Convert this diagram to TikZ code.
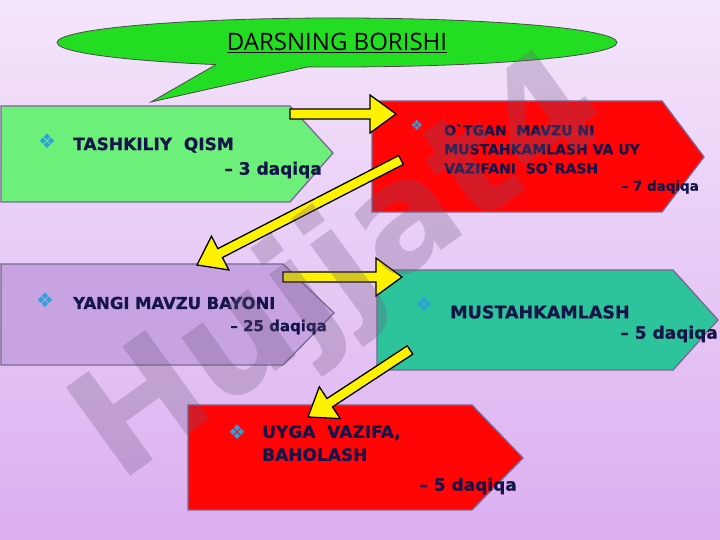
\documentclass[tikz,border=0pt]{standalone}
\usepackage{fontspec}
\newfontfamily\boxfont{DejaVu Sans}[BoldFeatures={FakeBold=0.8}]
\newfontfamily\markfont{DejaVu Sans}
\newfontfamily\headfont{Open Sans}
\usetikzlibrary{calc, shapes.geometric}

\definecolor{bgtop}{HTML}{F4E6FB}
\definecolor{bgbottom}{HTML}{DBAEF0}
\definecolor{boxline}{HTML}{7A6890}
\definecolor{inkblue}{HTML}{15154A}
\definecolor{bulletblue}{HTML}{2AA2DC}
\definecolor{bubblegreen}{HTML}{22DD22}
\definecolor{stepgreen}{HTML}{6CF07A}
\definecolor{stepred}{HTML}{FF0505}
\definecolor{steplilac}{HTML}{C7A3E2}
\definecolor{stepteal}{HTML}{2DC49B}
\definecolor{markgray}{HTML}{6E5580}

\tikzset{
  pics/yarrow/.style={code={
    \draw[fill=yellow, line width=1.3pt, line join=miter]
      (0,-5) -- (#1-26,-5) -- (#1-26,-19) -- (#1,0) -- (#1-26,19) -- (#1-26,5) -- (0,5) -- cycle;
  }}
}

\begin{document}
\begin{tikzpicture}[x=1pt, y=1pt,
    stepbox/.style={draw=boxline, line width=1.3pt, line join=miter},
    bullet/.style={text=bulletblue, inner sep=0, font=\boxfont\fontsize{#1}{#1}\selectfont},
    stepname/.style={text=inkblue, inner sep=0, align=left, font=\boxfont\bfseries\fontsize{#1}{#1}\selectfont},
    steptime/.style={text=inkblue, inner sep=0, anchor=east, font=\boxfont\bfseries\fontsize{#1}{#1}\selectfont}
  ]
    \useasboundingbox (0,0) rectangle (720,540);
    \shade[top color=bgtop, bottom color=bgbottom] (0,0) rectangle (720,540);

    % title bubble
    \node[ellipse, draw=black!70, fill=bubblegreen, line width=0.8pt, inner sep=0,
          minimum width=560, minimum height=49, font=\headfont\fontsize{24}{24}\selectfont]
          (title) at (337,497.5) {\underline{DARSNING BORISHI}};
    \coordinate (tailL) at (216,475.4);
    \coordinate (tailR) at (308,473.1);
    \coordinate (tailtip) at (151,438);
    \fill[bubblegreen] (tailL) -- (tailtip) -- (tailR) -- (308,480) -- (216,480) -- cycle;
    \draw[black!70, line width=0.8pt] (tailL) -- (tailtip) -- (tailR);

    % steps
    \draw[stepbox, fill=stepgreen] (1,434) -- (290,434) -- (333,387) -- (290,338) -- (1,338) -- cycle;
    \draw[stepbox, fill=stepred] (372,439) -- (662,439) -- (704,383) -- (662,328) -- (372,328) -- cycle;
    \draw[stepbox, fill=steplilac] (1,276) -- (283,276) -- (334,227) -- (283,175) -- (1,175) -- cycle;
    \draw[stepbox, fill=stepteal] (377,270) -- (673,270) -- (718,220) -- (673,170) -- (377,170) -- cycle;
    \draw[stepbox, fill=stepred] (188,135) -- (472,135) -- (523,82) -- (472,30) -- (188,30) -- cycle;

    \node[bullet=20] (b1) at (47,399) {❖};
    \node[stepname=17, anchor=west] (s1) at (73,395) {TASHKILIY\ \ QISM};
    \node[steptime=17] (m1) at (322,370) {– 3 daqiqa};

    \node[bullet=14] (b2) at (417,415) {❖};
    \node[stepname=14, anchor=north west, font=\boxfont\bfseries\fontsize{14}{19}\selectfont]
         (s2) at (444,416) {O`TGAN\ \ MAVZU NI\\MUSTAHKAMLASH VA UY\\VAZIFANI\ \ SO`RASH};
    \node[steptime=13.5] (m2) at (699,353) {– 7 daqiqa};

    \node[bullet=20] (b3) at (45,240) {❖};
    \node[stepname=16.4, anchor=west] (s3) at (73,237) {YANGI MAVZU BAYONI};
    \node[steptime=15] (m3) at (327,213) {– 25 daqiqa};

    \node[bullet=20] (b4) at (424,236) {❖};
    \node[stepname=17.5, anchor=west] (s4) at (450,228) {MUSTAHKAMLASH};
    \node[steptime=17] (m4) at (718,206) {– 5 daqiqa};

    \node[bullet=20] (b5) at (237,108) {❖};
    \node[stepname=17, anchor=north west, font=\boxfont\bfseries\fontsize{17}{23}\selectfont]
         (s5) at (262,115) {UYGA\ \ VAZIFA,\\BAHOLASH};
    \node[steptime=17] (m5) at (517,54) {– 5 daqiqa};

    % yellow arrows
    \coordinate (a1s) at (290,426); \coordinate (a1e) at (396,426);
    \coordinate (a2s) at (401,380); \coordinate (a2e) at (197,275);
    \coordinate (a3s) at (283,263); \coordinate (a3e) at (402,263);
    \coordinate (a4s) at (410,190); \coordinate (a4e) at (308,123);
    \foreach \a in {a1,a2,a3,a4}
      \path let \p1=($(\a e)-(\a s)$), \n1={atan2(\y1,\x1)}, \n2={veclen(\x1,\y1)}
        in pic[rotate=\n1] at (\a s) {yarrow=\n2};

    % watermark
    \node[text=markgray, opacity=0.28, rotate=36, inner sep=0,
          font=\markfont\bfseries\fontsize{150}{150}\selectfont] (mark) at (343,268) {Hujjat4};
\end{tikzpicture}
\end{document}
